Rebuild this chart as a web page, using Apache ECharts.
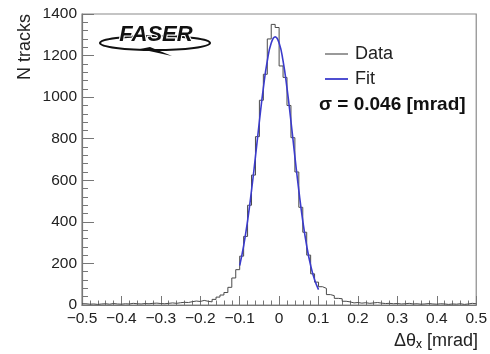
<!DOCTYPE html>
<html><head><meta charset="utf-8">
<script src="https://cdn.jsdelivr.net/npm/echarts@6/dist/echarts.min.js"></script>
<style>html,body{margin:0;padding:0;background:#fff}#c{width:490px;height:354px}</style>
</head><body><div id="c"></div>
<script>
// Histogram binning: 100 bins from -0.5 to 0.5
const binLow = -0.5;
const binWidth = 0.01;
// Counts per bin, left to right
const dataCounts = [
  6,4,5,3,5,6,4,7,5,4,
  6,5,8,6,5,7,6,8,9,7,
  6,8,10,8,11,13,12,16,19,17,
  22,18,15,27,38,48,60,85,130,170,
  235,330,480,625,810,985,1110,1280,1350,1335,
  1150,1095,960,805,640,470,350,240,150,110,
  88,80,50,45,32,30,18,15,10,12,
  9,11,8,10,12,9,7,8,6,7,
  5,6,8,5,6,4,5,7,5,4,
  6,5,3,5,4,6,3,5,8,6
];
// Fit curve points
const fitX = [-0.10,-0.09,-0.08,-0.07,-0.06,-0.05,-0.04,-0.03,-0.02,-0.01,0.00,0.01,0.02,0.03,0.04,0.05,0.06,0.07,0.08,0.09,0.10];
const fitY = [190,284,405,551,714,884,1043,1174,1260,1290,1260,1174,1043,884,714,551,405,284,190,121,74];
const xTicks = [-0.5,-0.4,-0.3,-0.2,-0.1,0,0.1,0.2,0.3,0.4,0.5];
const yTicks = [0,200,400,600,800,1000,1200,1400];

const histData = dataCounts.map((v,i)=>[binLow + i*binWidth, v]);
histData.push([binLow + dataCounts.length*binWidth, dataCounts[dataCounts.length-1]]);
const fitData = fitX.map((x,i)=>[x, fitY[i]]);

const FONT = '"Liberation Sans", Arial, Helvetica, sans-serif';
const chart = echarts.init(document.getElementById('c'), null, {renderer:'canvas'});
chart.setOption({
  animation:false,
  grid:{left:82,right:12,top:14,bottom:49,containLabel:false,show:true,borderColor:'#8a8a8a',borderWidth:1.2,backgroundColor:'transparent'},
  xAxis:{type:'value',min:xTicks[0],max:xTicks[xTicks.length-1],interval:0.1,
    axisLine:{show:true,onZero:false,lineStyle:{color:'#777',width:1.2}},
    axisTick:{show:true,inside:true,length:9,lineStyle:{color:'#777',width:1}},
    minorTick:{show:true,splitNumber:5,length:4.5,lineStyle:{color:'#777',width:1}},
    splitLine:{show:false},
    axisLabel:{fontFamily:FONT,fontSize:15.5,color:'#222',margin:6,
      formatter:v=>{const r=Math.round(v*10)/10; if(r===0) return '0'; return (r<0?'\u2212':'')+Math.abs(r).toFixed(1);} }
  },
  yAxis:{type:'value',min:yTicks[0],max:yTicks[yTicks.length-1],interval:200,
    axisLine:{show:true,onZero:false,lineStyle:{color:'#777',width:1.2}},
    axisTick:{show:true,inside:true,length:12,lineStyle:{color:'#777',width:1}},
    minorTick:{show:true,splitNumber:5,length:6,lineStyle:{color:'#777',width:1}},
    splitLine:{show:false},
    axisLabel:{fontFamily:FONT,fontSize:15.5,color:'#222',margin:5,formatter:v=>String(Math.round(v))}
  },
  series:[
    {name:'Data',type:'line',step:'end',data:histData,symbol:'none',
      lineStyle:{color:'#4a4a4a',width:1},z:2},
    {name:'Fit',type:'line',smooth:true,data:fitData,symbol:'none',
      lineStyle:{color:'#3b3bcc',width:1.6},z:3}
  ],
  graphic:[
    {type:'text',x:25,y:14,rotation:Math.PI/2,style:{text:'N tracks',font:'18px '+FONT,fill:'#222',align:'right',verticalAlign:'middle'}},
    {type:'text',x:478,y:341,style:{text:'{a|\u0394\u03b8}{s|x}{a| [mrad]}',align:'right',verticalAlign:'middle',
      rich:{a:{fontFamily:FONT,fontSize:18,fill:'#222',color:'#222'},s:{fontFamily:FONT,fontSize:12,color:'#222',padding:[8,0,0,0]}}}},
    {type:'line',shape:{x1:325,y1:54,x2:348,y2:54},style:{stroke:'#555',lineWidth:1.2}},
    {type:'text',x:355,y:54,style:{text:'Data',font:'18px '+FONT,fill:'#222',verticalAlign:'middle'}},
    {type:'line',shape:{x1:325,y1:79,x2:348,y2:79},style:{stroke:'#3b3bcc',lineWidth:1.8}},
    {type:'text',x:355,y:79,style:{text:'Fit',font:'18px '+FONT,fill:'#222',verticalAlign:'middle'}},
    {type:'text',x:319,y:105,style:{text:'\u03c3 = 0.046 [mrad]',font:'bold 19px '+FONT,fill:'#111',verticalAlign:'middle'}},
    // FASER logo
    {type:'ellipse',shape:{cx:155,cy:43,rx:55,ry:7},style:{fill:'none',stroke:'#111',lineWidth:2}},
    {type:'polygon',shape:{points:[[140,49],[172,56],[150,47]]},style:{fill:'#111'}},
    {type:'text',x:156,y:35,style:{text:'FASER',font:'italic bold 22px '+FONT,fill:'#111',stroke:'#fff',lineWidth:2,align:'center',verticalAlign:'middle'}}
  ]
});
</script></body></html>
